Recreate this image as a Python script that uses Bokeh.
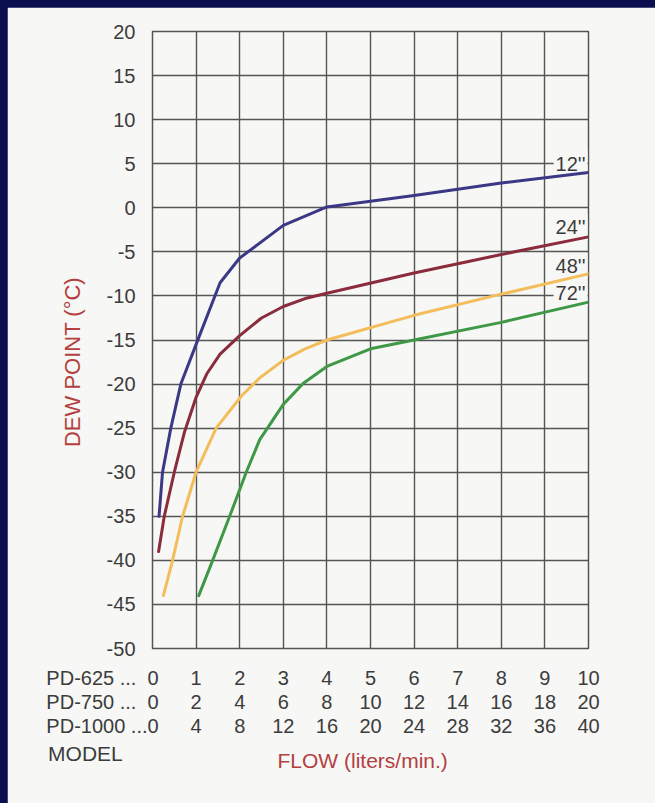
from bokeh.plotting import figure
from bokeh.models import FixedTicker, LinearAxis, Label
from bokeh.embed import file_html
from bokeh.resources import INLINE

# ---------------- data ----------------
# x = flow in PD-625 units (0..10), y = dew point (°C)
blue_x = [0.15, 0.23, 0.42, 0.65, 1.0, 1.55, 2.0, 3.0, 4.0, 6.0, 8.0, 10.0]
blue_y = [-35.0, -30.0, -25.0, -20.0, -15.5, -8.5, -5.7, -2.0, 0.1, 1.4, 2.8, 4.0]

red_x = [0.14, 0.27, 0.5, 0.73, 1.0, 1.25, 1.55, 2.0, 2.5, 3.0, 3.5, 4.0, 6.0, 8.0, 10.0]
red_y = [-39.0, -35.0, -30.0, -25.5, -21.5, -18.8, -16.6, -14.5, -12.5, -11.2, -10.3, -9.7, -7.4, -5.3, -3.3]

yellow_x = [0.25, 0.46, 0.69, 1.0, 1.46, 2.05, 2.46, 3.0, 3.5, 4.0, 6.0, 8.0, 10.0]
yellow_y = [-44.0, -40.0, -35.0, -30.0, -25.0, -21.3, -19.3, -17.3, -16.0, -15.0, -12.2, -9.8, -7.5]

green_x = [1.06, 1.38, 1.77, 2.15, 2.46, 3.0, 3.46, 4.0, 5.0, 6.0, 8.0, 10.0]
green_y = [-44.0, -40.0, -35.0, -30.0, -26.3, -22.3, -19.9, -18.0, -16.0, -15.0, -13.0, -10.7]

series_names = ["12''", "24''", "48''", "72''"]
series_label_y = [5.0, -2.2, -6.6, -9.7]

flow_ticks = [0, 1, 2, 3, 4, 5, 6, 7, 8, 9, 10]
pd625_labels = ["0", "1", "2", "3", "4", "5", "6", "7", "8", "9", "10"]
pd750_labels = ["0", "2", "4", "6", "8", "10", "12", "14", "16", "18", "20"]
pd1000_labels = ["0", "4", "8", "12", "16", "20", "24", "28", "32", "36", "40"]
model_names = ["PD-625 ...", "PD-750 ...", "PD-1000 ..."]

dew_ticks = [-50, -45, -40, -35, -30, -25, -20, -15, -10, -5, 0, 5, 10, 15, 20]
dew_labels = ["-50", "-45", "-40", "-35", "-30", "-25", "-20", "-15", "-10", "-5", "0", "5", "10", "15", "20"]

# ---------------- layout / style ----------------
NB = "\u00a0"
NAME_GAP = [2, 2, 0]      # no-break spaces between the dots and the 0
NAME_PAD = [18, 18, 18]   # trailing no-break spaces so that the 0 stays centred on its tick
MODEL_PAD = 23
FLOW_X = 4.82
PAGE = "#f7f7f5"
GRID = "#555553"
TXT = "#3c3c3c"
RED_TXT = "#b3403f"
FONT = "Liberation Sans"
colors = ["#3b3886", "#8a2c3c", "#f3bd5c", "#3f9846"]

p = figure(frame_width=436, frame_height=617, x_range=(0, 10), y_range=(-50, 20),
           output_backend="svg", toolbar_location=None,
           min_border_left=145, min_border_right=67, min_border_top=24, min_border_bottom=155)
p.margin = (7, 0, 0, 7)
p.background_fill_color = PAGE
p.border_fill_color = PAGE
p.outline_line_color = GRID
p.outline_line_width = 1.5

p.xgrid.ticker = FixedTicker(ticks=flow_ticks)
p.ygrid.ticker = FixedTicker(ticks=dew_ticks)
for g in (p.xgrid[0], p.ygrid[0]):
    g.grid_line_color = GRID
    g.grid_line_width = 1.4
    g.grid_line_alpha = 1.0

# y axis
ya = p.yaxis[0]
ya.ticker = FixedTicker(ticks=dew_ticks)
ya.major_label_overrides = dict(zip(dew_ticks, dew_labels))
ya.major_label_text_font = FONT
ya.major_label_text_font_size = "20px"
ya.major_label_text_color = TXT
ya.major_label_standoff = 17
ya.major_tick_line_color = None
ya.minor_tick_line_color = None
ya.axis_line_color = None
ya.major_tick_out = 0
ya.axis_label = "DEW POINT (°C)\u2003\u2003"
ya.axis_label_text_font = FONT
ya.axis_label_text_font_size = "22px"
ya.axis_label_text_font_style = "normal"
ya.axis_label_text_color = RED_TXT
ya.axis_label_standoff = 19

# x axes: three rows of flow values, each led by its model name
def style_x(ax, ticks, labels, standoff, color=TXT, size="20px"):
    ax.ticker = FixedTicker(ticks=ticks)
    ax.major_label_overrides = dict(zip(ticks, labels))
    ax.major_label_text_font = FONT
    ax.major_label_text_font_size = size
    ax.major_label_text_color = color
    ax.major_label_standoff = standoff
    ax.major_tick_line_color = None
    ax.minor_tick_line_color = None
    ax.major_tick_out = 0
    ax.major_tick_in = 0
    ax.axis_line_color = None

rows = [pd625_labels, pd750_labels, pd1000_labels]
standoffs = [18, -1, -1]
for k, (labels, nm, gap, pad, so) in enumerate(zip(rows, model_names, NAME_GAP, NAME_PAD, standoffs)):
    ax = p.xaxis[0] if k == 0 else LinearAxis()
    first = nm + NB * gap + labels[0] + NB * pad
    style_x(ax, flow_ticks, [first] + labels[1:], so)
    if k > 0:
        p.add_layout(ax, "below")

ax_model = LinearAxis()
style_x(ax_model, [0], ["MODEL" + NB * MODEL_PAD], 2, TXT, "21px")
p.add_layout(ax_model, "below")
ax_flow = LinearAxis()
style_x(ax_flow, [FLOW_X], ["FLOW (liters/min.)"], -19, RED_TXT, "21px")
p.add_layout(ax_flow, "below")

# curves
for xs, ys, c in zip([blue_x, red_x, yellow_x, green_x],
                     [blue_y, red_y, yellow_y, green_y], colors):
    p.line(xs, ys, line_color=c, line_width=3, line_join="round", line_cap="round")

# curve labels
for name, ly in zip(series_names, series_label_y):
    p.add_layout(Label(x=9.2, y=ly, text=name, text_align="left", text_baseline="middle",
                       text_font=FONT, text_font_size="20px", text_color=TXT,
                       background_fill_color=PAGE, padding=2, level="underlay"))

html = file_html(p, INLINE)
i = html.rfind("<body>")
if i >= 0:
    html = html[:i] + '<body style="margin:0;background:#0b0f4f;">' + html[i + len("<body>"):]
open("out.html", "w").write(html)
